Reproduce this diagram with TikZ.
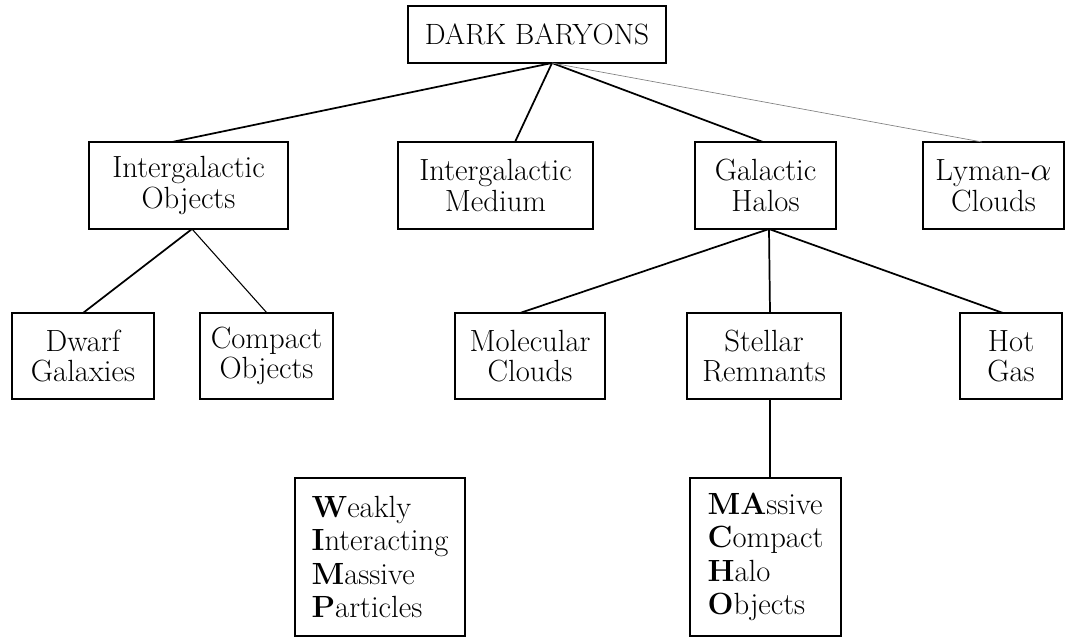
\documentclass[tikz,border=0pt]{standalone}
\usepackage{fontspec}
\begin{document}
\begin{tikzpicture}[x=0.75pt,y=-0.75pt,
  box/.style={draw, line width=1pt, inner sep=0pt, align=center,
    minimum height=65pt, font=\fontsize{23}{23.5}\selectfont},
  lowbox/.style={box, font=\fontsize{23}{22.5}\selectfont},
  tallbox/.style={box, align=left, minimum height=118.5pt, font=\fontsize{23}{25}\selectfont},
  link/.style={line width=1.3pt},
  thinlink/.style={line width=0.8pt},
  faintlink/.style={line width=0.5pt, gray}]
\useasboundingbox (0,0) rectangle (1066,638);

% top
\node[box, minimum width=193.5pt, minimum height=42.75pt, font=\fontsize{22}{24}\selectfont] (top) at (537,34.5) {DARK BARYONS};

% row 2
\node[box, minimum width=149.25pt] (io)  at (188.5,185.5) {Intergalactic\\Objects};
\node[box, minimum width=146.25pt] (igm) at (495.5,185.5) {Intergalactic\\Medium};
\node[box, minimum width=105.75pt] (gh)  at (765.5,185.5) {Galactic\\Halos};
\node[box, minimum width=105.75pt] (ly)  at (993.5,185.5) {Lyman-$\alpha$\\Clouds};

% row 3
\node[lowbox, minimum width=106.5pt, minimum height=64.5pt] (dw) at (83,356) {Dwarf\\Galaxies};
\node[lowbox, minimum width=99.75pt, minimum height=64.5pt] (co) at (266.5,356) {Compact\\Objects};
\node[lowbox, minimum width=112.5pt, minimum height=64.5pt] (mo) at (530,356) {Molecular\\Clouds};
\node[lowbox, minimum width=115.5pt, minimum height=64.5pt] (st) at (764,356) {Stellar\\Remnants};
\node[lowbox, minimum width=76.5pt, minimum height=64.5pt] (hg) at (1011,356) {Hot\\Gas};

% row 4
\node[tallbox, minimum width=127.5pt] (wi) at (380,557)
  {\textbf{W}eakly\\\textbf{I}nteracting\\\textbf{M}assive\\\textbf{P}articles};
\node[tallbox, minimum width=113.25pt] (ma) at (765.5,557)
  {\textbf{MA}ssive\\\textbf{C}ompact\\\textbf{H}alo\\\textbf{O}bjects};

% attachment points
\coordinate (j0) at (552,63);
\coordinate (io-in) at (172,142);
\coordinate (igm-in) at (515,142);
\coordinate (gh-in) at (763,142);
\coordinate (ly-in) at (982,142);
\coordinate (io-out) at (192,229);
\coordinate (dw-in) at (83,313);
\coordinate (co-in) at (267,313);
\coordinate (gh-out) at (769,229);
\coordinate (mo-in) at (520,313);
\coordinate (st-in) at (770,313);
\coordinate (hg-in) at (1003,313);
\coordinate (st-out) at (770,399);
\coordinate (ma-in) at (770,478);

% connectors
\draw[link] (j0) -- (io-in);
\draw[link] (j0) -- (igm-in);
\draw[link] (j0) -- (gh-in);
\draw[faintlink] (j0) -- (ly-in);
\draw[link] (io-out) -- (dw-in);
\draw[thinlink] (io-out) -- (co-in);
\draw[link] (gh-out) -- (mo-in);
\draw[link] (gh-out) -- (st-in);
\draw[link] (gh-out) -- (hg-in);
\draw[link] (st-out) -- (ma-in);
\end{tikzpicture}
\end{document}
